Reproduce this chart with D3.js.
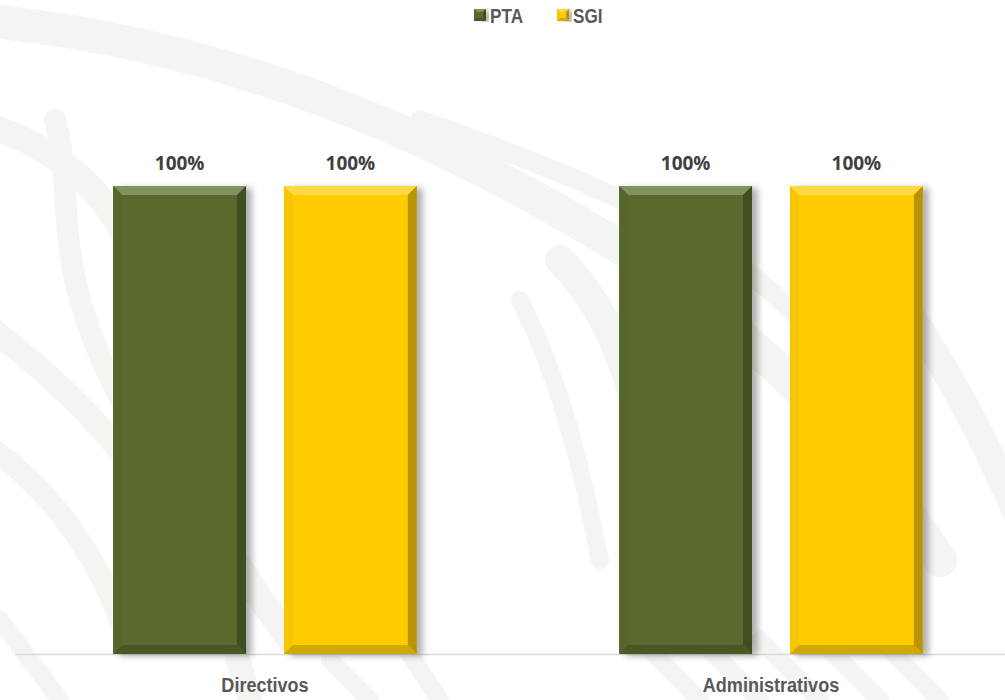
<!DOCTYPE html>
<html>
<head>
<meta charset="utf-8">
<script src="https://cdn.jsdelivr.net/npm/d3@7"></script>
<style>
  body { margin: 0; background: #fff; }
  #chart { width: 1005px; height: 700px; }
  .cat-label { font-family: "Liberation Sans", Arial, sans-serif; font-weight: bold; font-size: 21px; fill: #595959; }
  .val-label { font-family: "Open Sans", "DejaVu Sans", sans-serif; font-weight: bold; font-size: 19px; fill: #404040; }
  .legend-label { font-family: "Liberation Sans", Arial, sans-serif; font-weight: bold; font-size: 20px; fill: #595959; }
</style>
</head>
<body>
<div id="chart"></div>
<script>
const categories = ["Directivos", "Administrativos"];
const seriesNames = ["PTA", "SGI"];
const seriesColors = ["#5a6b2e", "#ffcc05"];
const ptaValues = [1.0, 1.0];
const sgiValues = [1.0, 1.0];

const W = 1005, H = 700;
const svg = d3.select("#chart").append("svg")
    .attr("width", W).attr("height", H)
    .attr("viewBox", `0 0 ${W} ${H}`);

const defs = svg.append("defs");
const shadow = defs.append("filter").attr("id", "shadow")
    .attr("x", "-10%").attr("y", "-5%").attr("width", "130%").attr("height", "110%");
shadow.append("feDropShadow").attr("dx", 6).attr("dy", 2).attr("stdDeviation", 3)
    .attr("flood-color", "#000").attr("flood-opacity", 0.3);

// faint watermark in the background
const wm = svg.append("g").attr("fill", "none").attr("stroke", "#f4f4f2").attr("stroke-linecap", "round");
wm.append("path").attr("d", "M-20,20 C200,40 420,120 640,260 C760,340 860,440 940,560").attr("stroke-width", 34);
wm.append("path").attr("d", "M-30,120 C80,150 140,220 150,330 C160,420 200,520 290,640").attr("stroke-width", 26);
wm.append("path").attr("d", "M55,120 C70,170 60,230 80,300 C110,400 160,470 230,560").attr("stroke-width", 22);
wm.append("path").attr("d", "M-20,320 C60,380 120,440 170,520 C200,570 230,620 250,700").attr("stroke-width", 24);
wm.append("path").attr("d", "M-20,440 C40,480 90,540 120,620").attr("stroke-width", 22);
wm.append("path").attr("d", "M420,120 C560,170 720,230 800,320 C850,380 880,460 890,560").attr("stroke-width", 20);
wm.append("path").attr("d", "M560,260 C620,320 650,420 660,560").attr("stroke-width", 30);
wm.append("path").attr("d", "M520,300 C560,380 580,460 600,560").attr("stroke-width", 18);
wm.append("path").attr("d", "M860,250 C930,330 980,430 1020,520").attr("stroke-width", 28);
wm.append("path").attr("d", "M640,640 L700,700 M700,640 L760,700 M760,640 L820,700 M820,640 L880,700 M880,640 L940,700").attr("stroke-width", 18);
wm.append("path").attr("d", "M0,620 L60,700 M330,660 L370,700 M400,640 L440,700").attr("stroke-width", 18);

const x0 = d3.scaleBand().domain(categories).range([12, 1024]).paddingInner(0.4).paddingOuter(0.2);
const x1 = d3.scaleBand().domain(seriesNames).range([0, x0.bandwidth()]).paddingInner(0.222);
const y = d3.scaleLinear().domain([0, 1]).range([654, 186]);

const rows = categories.map((c, i) => ({
    category: c,
    values: [
        { series: "PTA", value: ptaValues[i], color: seriesColors[0] },
        { series: "SGI", value: sgiValues[i], color: seriesColors[1] }
    ]
}));

// axis line
svg.append("line")
    .attr("x1", 15).attr("x2", W)
    .attr("y1", y(0) + 0.5).attr("y2", y(0) + 0.5)
    .attr("stroke", "#d9d9d9").attr("stroke-width", 1.5);

function bevel(g, bx, by, bw, bh, color, b) {
    const c = d3.color(color);
    const light = d3.interpolateRgb(color, "#ffffff")(0.25);
    g.append("rect").attr("x", bx).attr("y", by).attr("width", bw).attr("height", bh)
        .attr("fill", color).attr("filter", "url(#shadow)");
    // top
    g.append("path")
        .attr("d", `M${bx},${by} L${bx + bw},${by} L${bx + bw - b},${by + b} L${bx + b},${by + b} Z`)
        .attr("fill", light);
    // left
    g.append("path")
        .attr("d", `M${bx},${by} L${bx + b},${by + b} L${bx + b},${by + bh - b} L${bx},${by + bh} Z`)
        .attr("fill", c.darker(0.1));
    // right
    g.append("path")
        .attr("d", `M${bx + bw},${by} L${bx + bw},${by + bh} L${bx + bw - b},${by + bh - b} L${bx + bw - b},${by + b} Z`)
        .attr("fill", c.darker(0.9));
    // bottom
    g.append("path")
        .attr("d", `M${bx},${by + bh} L${bx + bw},${by + bh} L${bx + bw - b},${by + bh - b} L${bx + b},${by + bh - b} Z`)
        .attr("fill", c.darker(0.55));
}

const groups = svg.selectAll(".cat").data(rows).enter().append("g")
    .attr("class", "cat")
    .attr("transform", d => `translate(${x0(d.category)},0)`);

groups.each(function(d) {
    const g = d3.select(this);
    d.values.forEach(v => {
        const bx = x1(v.series), by = y(v.value), bw = x1.bandwidth(), bh = y(0) - y(v.value);
        bevel(g.append("g"), bx, by, bw, bh, v.color, 9);
        g.append("text").attr("class", "val-label")
            .attr("x", bx + bw / 2).attr("y", by - 16)
            .attr("text-anchor", "middle")
            .text(d3.format(".0%")(v.value));
    });
});

// category labels (condensed look via horizontal squeeze)
svg.selectAll(".cat-label").data(categories).enter().append("text")
    .attr("class", "cat-label")
    .attr("transform", d => `translate(${x0(d) + x0.bandwidth() / 2},692) scale(0.86,1)`)
    .attr("text-anchor", "middle")
    .text(d => d);

// legend
const legendX = [474, 557];
const legend = svg.append("g");
seriesNames.forEach((s, i) => {
    const lg = legend.append("g").attr("transform", `translate(${legendX[i]},9)`);
    bevel(lg, 0, 0, 12, 12, seriesColors[i], 3);
    lg.append("text").attr("class", "legend-label")
        .attr("transform", "translate(16,13.5) scale(0.86,1)")
        .text(s);
});
</script>
</body>
</html>
